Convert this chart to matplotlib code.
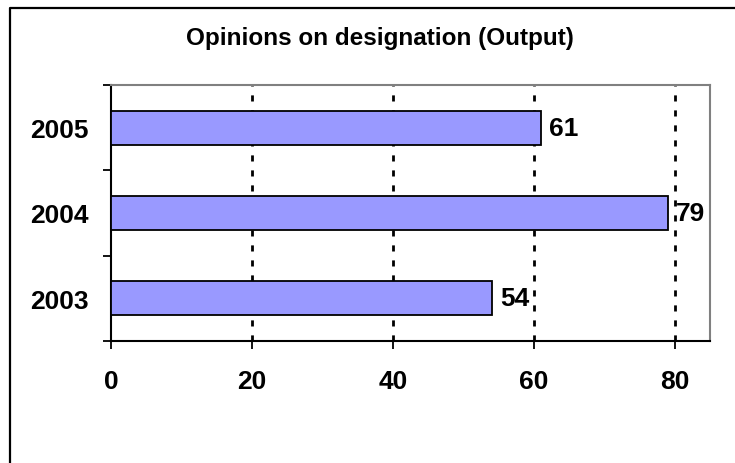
import matplotlib
matplotlib.use('Agg')
import matplotlib.pyplot as plt
from matplotlib.lines import Line2D

# data
years = ['2003', '2004', '2005']
values = [54, 79, 61]
x_ticks = [0, 20, 40, 60, 80]
title = 'Opinions on designation (Output)'

plt.rcParams['font.family'] = ['Liberation Sans', 'DejaVu Sans']
plt.rcParams['font.weight'] = 'bold'

W, H = 735, 464
fig = plt.figure(figsize=(W / 100, H / 100), dpi=100)
ax = fig.add_axes([111 / W, 1 - 342 / H, (710 - 111) / W, (342 - 86) / H])

pos = list(range(len(years)))
ax.barh(pos, values, height=0.4, color='#9999FF', edgecolor='black',
        linewidth=1.3, zorder=3)

for p, v in zip(pos, values):
    ax.annotate(str(v), (v, p), xytext=(6, 0), textcoords='offset points',
                ha='left', va='center', fontsize=19, fontweight='bold')

ax.set_xlim(0, 85)
ax.set_ylim(-0.5, len(years) - 0.5)

ax.set_xticks(x_ticks)
ax.set_xticklabels([str(t) for t in x_ticks], fontsize=19, fontweight='bold')
ax.tick_params(axis='x', direction='out', length=6, width=1.3, pad=14)

# category boundaries as major ticks, labels at centres as minor ticks
ax.set_yticks([p - 0.5 for p in pos] + [pos[-1] + 0.5])
ax.set_yticklabels([])
ax.set_yticks(pos, minor=True)
ax.set_yticklabels(years, minor=True, fontsize=19, fontweight='bold')
ax.tick_params(axis='y', which='major', direction='out', length=6, width=1.3)
ax.tick_params(axis='y', which='minor', length=0, pad=16)

for t in x_ticks[1:]:
    ax.axvline(t, color='black', linewidth=2, linestyle=(0, (2.2, 3.2)), zorder=1)

ax.spines['left'].set_color('black')
ax.spines['bottom'].set_color('black')
ax.spines['left'].set_linewidth(1.5)
ax.spines['bottom'].set_linewidth(1.5)
ax.spines['top'].set_color('#808080')
ax.spines['right'].set_color('#808080')
ax.spines['top'].set_linewidth(1.5)
ax.spines['right'].set_linewidth(1.5)

fig.text(379.5 / W, 1 - 39 / H, title, ha='center', va='center',
         fontsize=17.5, fontweight='bold')

# outer chart border: only left and top edges are inside the picture
x0, y0 = 9.5 / W, 1 - 8.5 / H
fig.add_artist(Line2D([x0, x0, 1.0], [0.0, y0, y0], transform=fig.transFigure,
                      color='black', linewidth=1.6))

fig.savefig('out.png', dpi=100)
